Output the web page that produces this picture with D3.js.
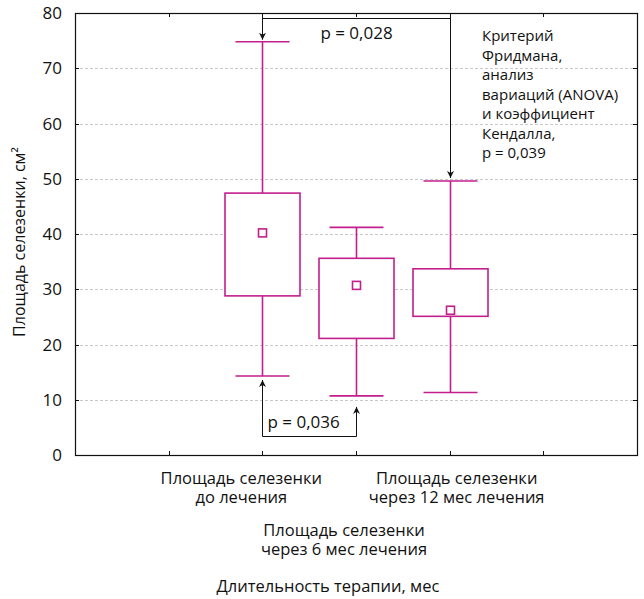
<!DOCTYPE html>
<html>
<head>
<meta charset="utf-8">
<script src="https://cdn.jsdelivr.net/npm/d3@7"></script>
<style>
  body { margin: 0; background: #fff; }
  svg text { font-family: "Open Sans", "Noto Sans", sans-serif; fill: #111; }
</style>
</head>
<body>
<div id="chart"></div>
<script>
// data
var categories = [
  ["Площадь селезенки", "до лечения"],
  ["Площадь селезенки", "через 6 мес лечения"],
  ["Площадь селезенки", "через 12 мес лечения"]
];
var maxVals    = [74.8, 41.2, 49.6];
var q3Vals     = [47.4, 35.6, 33.7];
var medianVals = [40.2, 30.7, 26.2];
var q1Vals     = [28.8, 21.1, 25.1];
var minVals    = [14.3, 10.7, 11.3];
var yTicks     = [0, 10, 20, 30, 40, 50, 60, 70, 80];
var xTickPos   = [1, 2, 3, 4, 5];

var yTitle = "Площадь селезенки, см²";
var xTitle = "Длительность терапии, мес";
var noteLines = ["Критерий", "Фридмана,", "анализ", "вариаций (ANOVA)",
                 "и коэффициент", "Кендалла,", "p = 0,039"];
var pTop = "p = 0,028", pBottom = "p = 0,036";

// layout
var W = 644, H = 599;
var pL = 75, pR = 637, pT = 13, pB = 455;
var boxW = 75, capW = 54, medS = 8;
var magenta = "#c21e8c";
var labelShift = [-21, -12, 7];   // statistica nudges the tick labels apart
var labelRow = [0, 1, 0];

var svg = d3.select("#chart").append("svg")
  .attr("width", W).attr("height", H);

var defs = svg.append("defs");
defs.append("marker")
  .attr("id", "arr")
  .attr("viewBox", "0 0 10 10")
  .attr("refX", 10).attr("refY", 5)
  .attr("markerWidth", 7).attr("markerHeight", 10)
  .attr("markerUnits", "userSpaceOnUse")
  .attr("orient", "auto")
  .append("path")
    .attr("d", "M0,0 L10,5 L0,10 L3,5 Z")
    .attr("fill", "#111");

var x = d3.scaleLinear().domain([0, 6]).range([pL, pR]);
var y = d3.scaleLinear().domain([0, 80]).range([pB, pT]);
var cx = function(i) { return x(i + 2); };

// grid
svg.append("g").selectAll("line")
  .data(yTicks.filter(function(d) { return d > 0 && d < 80; }))
  .enter().append("line")
    .attr("x1", pL).attr("x2", pR)
    .attr("y1", function(d) { return Math.round(y(d)) + 0.5; })
    .attr("y2", function(d) { return Math.round(y(d)) + 0.5; })
    .attr("stroke", "#c8c8c8")
    .attr("stroke-dasharray", "3,2");

// frame + inward ticks
svg.append("rect")
  .attr("x", pL + 0.5).attr("y", pT + 0.5)
  .attr("width", pR - pL).attr("height", pB - pT)
  .attr("fill", "none").attr("stroke", "#111").attr("stroke-width", 1.2);

var ticks = svg.append("g").attr("stroke", "#111");
xTickPos.forEach(function(p) {
  var xx = Math.round(x(p)) + 0.5;
  ticks.append("line").attr("x1", xx).attr("x2", xx).attr("y1", pB).attr("y2", pB - 4);
  ticks.append("line").attr("x1", xx).attr("x2", xx).attr("y1", pT).attr("y2", pT + 4);
});
yTicks.forEach(function(t) {
  var yy = Math.round(y(t)) + 0.5;
  ticks.append("line").attr("x1", pL).attr("x2", pL + 4).attr("y1", yy).attr("y2", yy);
  ticks.append("line").attr("x1", pR).attr("x2", pR - 4).attr("y1", yy).attr("y2", yy);
});

// y tick labels
svg.append("g").selectAll("text")
  .data(yTicks)
  .enter().append("text")
    .attr("x", pL - 13)
    .attr("y", function(d) { return y(d); })
    .attr("dy", "0.36em")
    .attr("text-anchor", "end")
    .style("font-size", "17px")
    .text(function(d) { return d; });

// y title
svg.append("text")
  .attr("transform", "translate(25," + ((pT + pB) / 2 + 8) + ") rotate(-90)")
  .attr("text-anchor", "middle")
  .style("font-size", "16px")
  .text(yTitle);

// x labels
var xl = svg.append("g").selectAll("text")
  .data(categories)
  .enter().append("text")
    .attr("text-anchor", "middle")
    .style("font-size", "16.5px")
    .attr("transform", function(d, i) {
      return "translate(" + (cx(i) + labelShift[i]) + "," + (pB + 29 + labelRow[i] * 52) + ")";
    });
xl.selectAll("tspan")
  .data(function(d) { return d; })
  .enter().append("tspan")
    .attr("x", 0)
    .attr("dy", function(d, j) { return j ? 18.5 : 0; })
    .text(function(d) { return d; });

svg.append("text")
  .attr("x", 328).attr("y", 592)
  .attr("text-anchor", "middle")
  .style("font-size", "16.5px")
  .text(xTitle);

// boxes
var box = svg.append("g")
  .attr("stroke", magenta).attr("stroke-width", 1.6).attr("fill", "none");

categories.forEach(function(c, i) {
  var xc = Math.round(cx(i)) + 0.5;
  box.append("line").attr("x1", xc).attr("x2", xc).attr("y1", y(maxVals[i])).attr("y2", y(q3Vals[i]));
  box.append("line").attr("x1", xc).attr("x2", xc).attr("y1", y(q1Vals[i])).attr("y2", y(minVals[i]));
  box.append("line").attr("x1", xc - capW / 2).attr("x2", xc + capW / 2)
    .attr("y1", y(maxVals[i])).attr("y2", y(maxVals[i]));
  box.append("line").attr("x1", xc - capW / 2).attr("x2", xc + capW / 2)
    .attr("y1", y(minVals[i])).attr("y2", y(minVals[i]));
  box.append("rect")
    .attr("x", xc - boxW / 2).attr("y", y(q3Vals[i]))
    .attr("width", boxW).attr("height", y(q1Vals[i]) - y(q3Vals[i]))
    .attr("fill", "#fff");
  box.append("rect")
    .attr("x", xc - medS / 2).attr("y", y(medianVals[i]) - medS / 2)
    .attr("width", medS).attr("height", medS)
    .attr("fill", "#fff");
});

// significance brackets
var ann = svg.append("g").attr("stroke", "#111").attr("stroke-width", 1).attr("fill", "none");

var x0 = Math.round(cx(0)) + 0.5, x1 = Math.round(cx(1)) + 0.5, x2 = Math.round(cx(2)) + 0.5;
var yTopBr = pT + 5.5, yBotBr = pB - 18.5;

ann.append("line").attr("x1", x0).attr("x2", x0).attr("y1", pT).attr("y2", y(maxVals[0]) - 2)
  .attr("marker-end", "url(#arr)");
ann.append("polyline")
  .attr("points", [[x0, yTopBr], [x2, yTopBr]].join(" "));
ann.append("line").attr("x1", x2).attr("x2", x2).attr("y1", pT).attr("y2", y(maxVals[2]) - 3)
  .attr("marker-end", "url(#arr)");

ann.append("polyline")
  .attr("points", [[x0, yBotBr], [x1, yBotBr]].join(" "));
ann.append("line").attr("x1", x0).attr("x2", x0).attr("y1", yBotBr).attr("y2", y(minVals[0]) + 4)
  .attr("marker-end", "url(#arr)");
ann.append("line").attr("x1", x1).attr("x2", x1).attr("y1", yBotBr).attr("y2", y(minVals[1]) + 11)
  .attr("marker-end", "url(#arr)");

svg.append("text")
  .attr("x", (x0 + x2) / 2).attr("y", 39)
  .attr("text-anchor", "middle")
  .style("font-size", "17px")
  .text(pTop);

svg.append("text")
  .attr("x", x0 + 5).attr("y", 428)
  .style("font-size", "17px")
  .text(pBottom);

// note block
svg.append("g").selectAll("text")
  .data(noteLines)
  .enter().append("text")
    .attr("x", 482)
    .attr("y", function(d, i) { return 41 + i * 19.5; })
    .style("font-size", "15px")
    .text(function(d) { return d; });
</script>
</body>
</html>
